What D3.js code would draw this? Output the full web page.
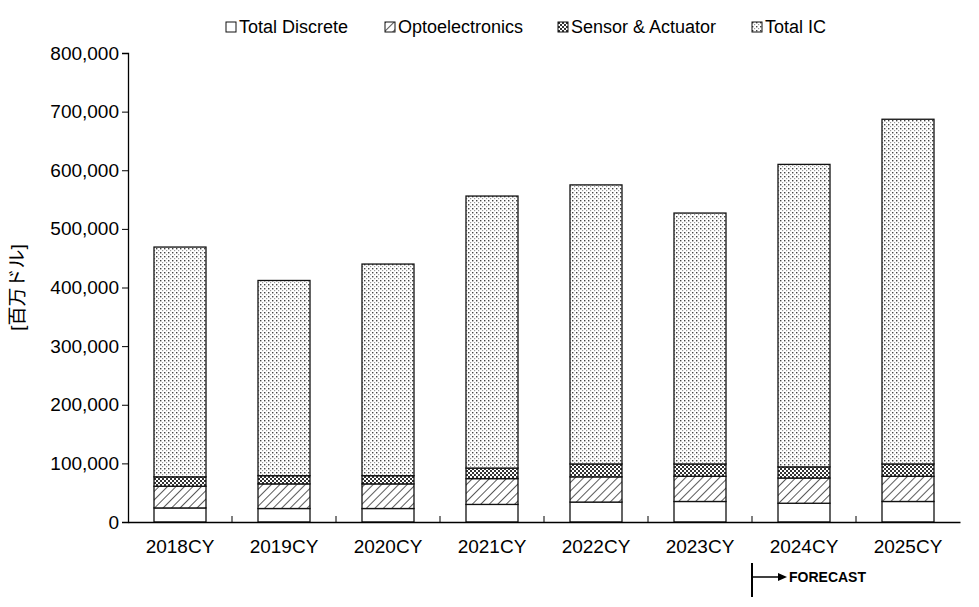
<!DOCTYPE html>
<html><head><meta charset="utf-8">
<script src="https://cdn.jsdelivr.net/npm/d3@7"></script>
<style>body{margin:0;background:#fff}text{font-family:Arial,"Liberation Sans","Noto Sans CJK JP",sans-serif}</style>
</head><body><div id="chart"></div>
<script>
// values in million USD
var years = ["2018CY","2019CY","2020CY","2021CY","2022CY","2023CY","2024CY","2025CY"];
var discrete = [24, 23, 23, 30, 34, 35, 32, 35].map(function(v){ return v*1000; });
var opto = [37, 42, 42, 44, 43, 43, 43, 43].map(function(v){ return v*1000; });
var sensor = [16, 14, 14, 18, 22, 21, 19, 21].map(function(v){ return v*1000; });
var ic = [392, 333, 361, 464, 476, 428, 516, 588].map(function(v){ return v*1000; });
var seriesNames = ["Total Discrete","Optoelectronics","Sensor & Actuator","Total IC"];
var yTicks = [0,100000,200000,300000,400000,500000,600000,700000,800000];

var W = 979, H = 607, m = {l:128, r:19, t:53, b:85};
var svg = d3.select("#chart").append("svg").attr("width", W).attr("height", H);
var defs = svg.append("defs");

// fill patterns
var p;
p = defs.append("pattern").attr("id","pat1").attr("width",6).attr("height",6)
  .attr("patternUnits","userSpaceOnUse").attr("patternTransform","rotate(45)");
p.append("rect").attr("width",6).attr("height",6).attr("fill","#fff");
p.append("line").attr("x1",0).attr("y1",0).attr("x2",0).attr("y2",6).attr("stroke","#222").attr("stroke-width",1.5);
p = defs.append("pattern").attr("id","pat2").attr("width",4).attr("height",4).attr("patternUnits","userSpaceOnUse");
p.append("rect").attr("width",4).attr("height",4).attr("fill","#fff");
p.append("rect").attr("width",2).attr("height",2).attr("fill","#333");
p.append("rect").attr("x",2).attr("y",2).attr("width",2).attr("height",2).attr("fill","#333");
p = defs.append("pattern").attr("id","pat3").attr("width",4).attr("height",4).attr("patternUnits","userSpaceOnUse");
p.append("rect").attr("width",4).attr("height",4).attr("fill","#fff");
p.append("rect").attr("width",1.4).attr("height",1.4).attr("fill","#444");
p.append("rect").attr("x",2).attr("y",2).attr("width",1.2).attr("height",1.2).attr("fill","#999");
var fills = ["#fff","url(#pat1)","url(#pat2)","url(#pat3)"];

var x = d3.scaleBand().domain(years).range([m.l, W-m.r]).paddingInner(0.5).paddingOuter(0.25);
var y = d3.scaleLinear().domain([0,800000]).range([H-m.b, m.t]);

var rows = years.map(function(yr,i){ return {year:yr, a:discrete[i], b:opto[i], c:sensor[i], d:ic[i]}; });
var stack = d3.stack().keys(["a","b","c","d"])(rows);

svg.append("g").selectAll("g").data(stack).enter().append("g")
  .attr("fill", function(d,i){ return fills[i]; })
  .selectAll("rect").data(function(d){ return d; }).enter().append("rect")
  .attr("x", function(d){ return x(d.data.year); })
  .attr("width", x.bandwidth())
  .attr("y", function(d){ return y(d[1]); })
  .attr("height", function(d){ return y(d[0]) - y(d[1]); })
  .attr("stroke","#111").attr("stroke-width",1.3);

// axes
var ya = svg.append("g").attr("transform","translate("+m.l+",0)")
  .call(d3.axisLeft(y).tickValues(yTicks).tickSize(6).tickFormat(d3.format(",")));
ya.selectAll("text").attr("font-size",19).attr("fill","#000");
ya.select(".domain").attr("stroke","#000").attr("stroke-width",1.3);

var xa = svg.append("g").attr("transform","translate(0,"+(H-m.b)+")")
  .call(d3.axisBottom(x).tickSize(0).tickPadding(18));
xa.selectAll("text").attr("font-size",19).attr("fill","#000");
xa.select(".domain").attr("stroke","#000").attr("stroke-width",1.3);
var step = x.step();
svg.append("g").selectAll("line").data(years.slice(1)).enter().append("line")
  .attr("x1", function(d){ return x(d) - (step - x.bandwidth())/2; })
  .attr("x2", function(d){ return x(d) - (step - x.bandwidth())/2; })
  .attr("y1", H-m.b).attr("y2", H-m.b-6).attr("stroke","#000");

svg.append("text").attr("transform","translate(24,"+((m.t+H-m.b)/2)+") rotate(-90)")
  .attr("text-anchor","middle").attr("font-size",19).text("[百万ドル]");

// legend
var lx = [226, 385, 558, 752];
var lg = svg.append("g").selectAll("g").data(seriesNames).enter().append("g")
  .attr("transform", function(d,i){ return "translate("+lx[i]+",22)"; });
lg.append("rect").attr("width",10).attr("height",10).attr("fill", function(d,i){ return fills[i]; })
  .attr("stroke","#111");
lg.append("text").attr("x",13).attr("y",11).attr("font-size",18).text(function(d){ return d; });

// forecast marker
var fx = x("2024CY") - (step - x.bandwidth())/2;
svg.append("line").attr("x1",fx).attr("x2",fx).attr("y1",563).attr("y2",597).attr("stroke","#000").attr("stroke-width",2);
svg.append("line").attr("x1",fx).attr("x2",780).attr("y1",577).attr("y2",577).attr("stroke","#000").attr("stroke-width",1.5);
svg.append("path").attr("d","M778,573 L787,577 L778,581 Z").attr("fill","#000");
svg.append("text").attr("x",789).attr("y",582).attr("font-size",14).attr("font-weight","bold").text("FORECAST");
</script></body></html>
